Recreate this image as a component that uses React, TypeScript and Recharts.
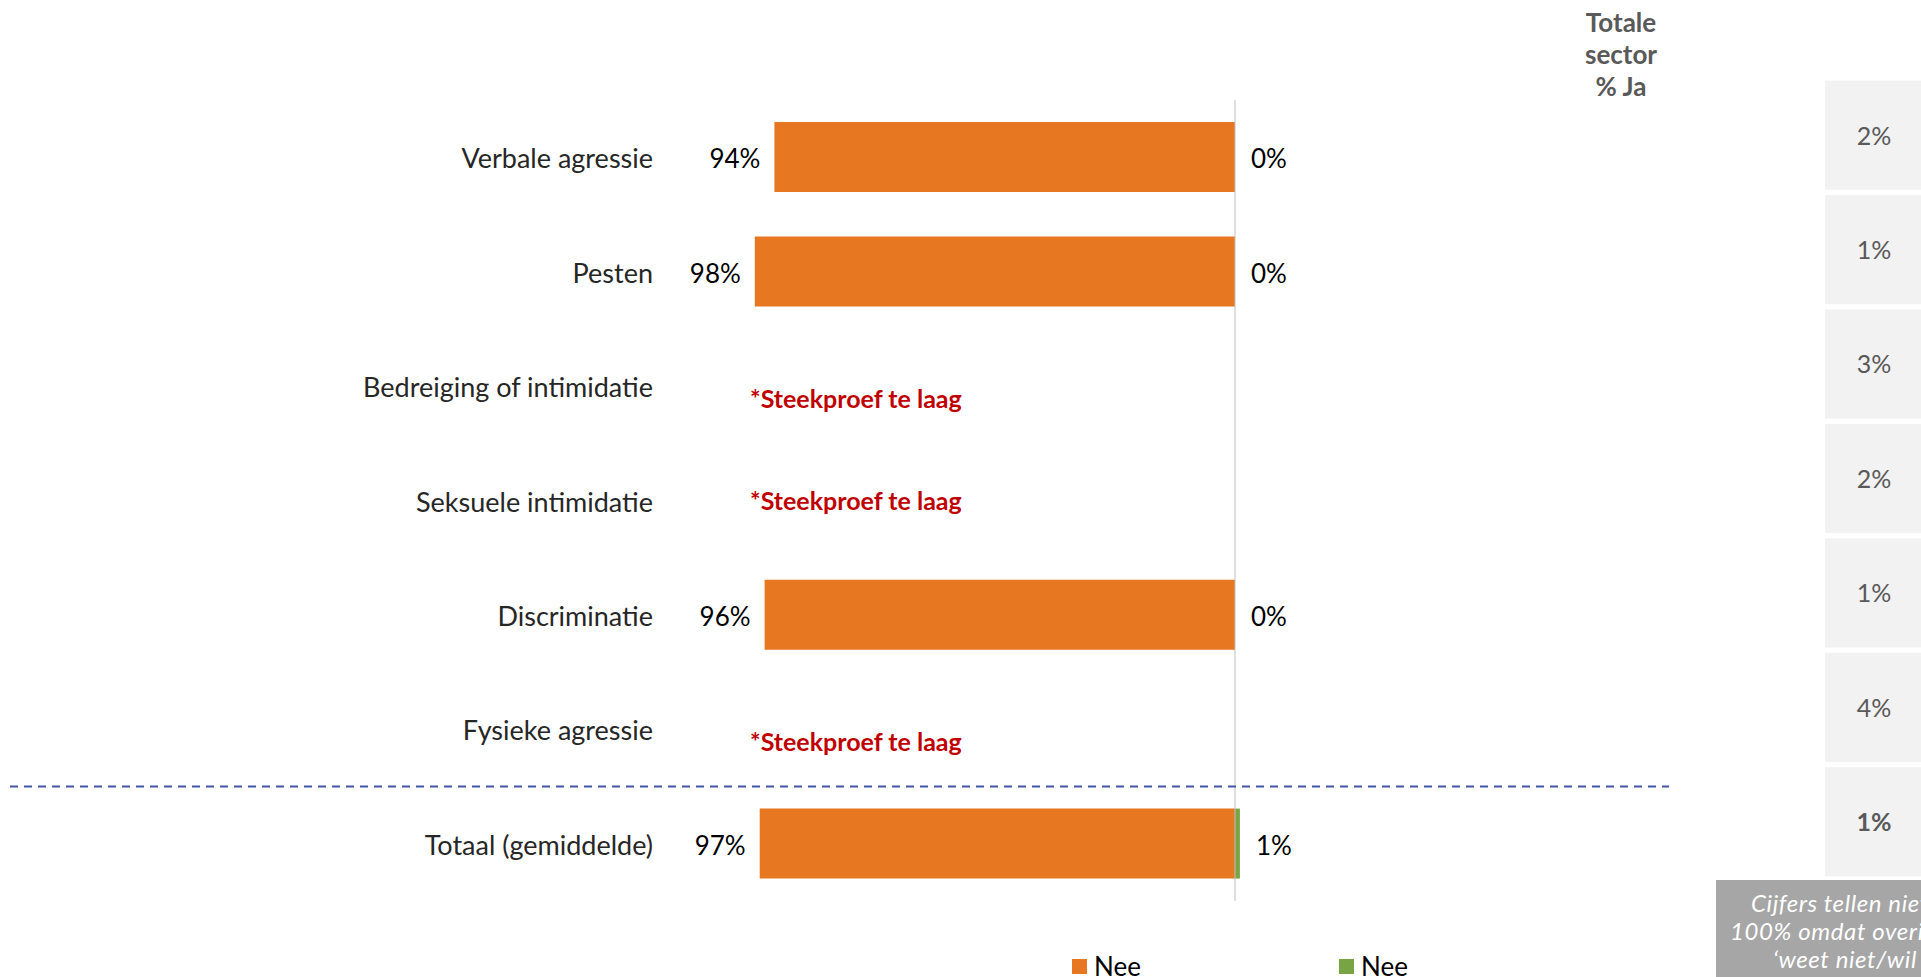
import React from 'react';
import { BarChart, Bar, XAxis, YAxis, ReferenceLine, ReferenceDot, LabelList } from 'recharts';

const categories = [
  'Verbale agressie',
  'Pesten',
  'Bedreiging of intimidatie',
  'Seksuele intimidatie',
  'Discriminatie',
  'Fysieke agressie',
  'Totaal (gemiddelde)',
];
const neeValues: (number | null)[] = [94, 98, null, null, 96, null, 97];
const jaValues: (number | null)[] = [0, 0, null, null, 0, null, 1];
const sectorJa = [2, 1, 3, 2, 1, 4, 1];
const lowSample = [false, false, true, true, false, true, false];
const legendLabels = ['Nee', 'Nee'];
const seriesColors = ['#E87722', '#78A443'];
const headerLines = ['Totale', 'sector', '% Ja'];
const noteLines = ['Cijfers tellen niet op tot', '100% omdat overige antwoorden', '\u2018weet niet/wil niet zeggen\u2019'];
const lowSampleText = '*Steekproef te laag';

// style: vertical nudge of the low-sample note per category (px)
const noteNudge: Record<string, number> = {
  'Bedreiging of intimidatie': 13,
  'Seksuele intimidatie': 1,
  'Fysieke agressie': 13,
};

const FONT = 'Lato, "Open Sans", sans-serif';

const data = categories.map((name, i) => ({
  name,
  nee: neeValues[i] == null ? null : -(neeValues[i] as number),
  ja: jaValues[i],
  neeLabel: neeValues[i] == null ? '' : `${neeValues[i]}%`,
  sector: sectorJa[i],
}));

const SectorTick = (props: any) => {
  const { x, y, index } = props;
  const isTotal = index === categories.length - 1;
  return (
    <g>
      <rect x={x} y={y - 76.5} width={200} height={109} fill="#F2F2F2" />
      <text
        x={x + 49}
        y={y - 21.5}
        dy="0.355em"
        textAnchor="middle"
        fill="#595959"
        fontSize={25}
        fontFamily={FONT}
        fontWeight={isTotal ? 'bold' : 'normal'}
      >
        {`${sectorJa[index]}%`}
      </text>
    </g>
  );
};

const CategoryTick = (props: any) => {
  const { x, y, payload } = props;
  return (
    <text
      x={x}
      y={y + 1.5}
      dy="0.355em"
      textAnchor="end"
      fill="#262626"
      fontSize={27}
      fontFamily={FONT}
    >
      {payload.value}
    </text>
  );
};

const makeNoteLabel = (cat: string) => (props: any) => {
  const vb = props.viewBox || {};
  return (
    <text
      x={vb.x + 5}
      y={vb.y + (noteNudge[cat] || 0)}
      dy="0.355em"
      fill="#C00000"
      fontWeight="bold"
      fontSize={25}
      fontFamily={FONT}
    >
      {lowSampleText}
    </text>
  );
};

const makeValueLabel = (text: string) => (props: any) => {
  const vb = props.viewBox || {};
  return (
    <text
      x={vb.x + (vb.width || 0) + 16}
      y={vb.y + (vb.height || 0) / 2 + 2}
      dy="0.355em"
      fill="#000"
      fontSize={26}
      fontFamily={FONT}
    >
      {text}
    </text>
  );
};

export default function App() {
  return (
    <div
      style={{
        position: 'absolute',
        left: 0,
        top: 0,
        width: 1921,
        height: 977,
        overflow: 'hidden',
        background: '#fff',
        fontFamily: FONT,
      }}
    >
      <div
        style={{
          position: 'absolute',
          left: 1521,
          top: 6,
          width: 200,
          textAlign: 'center',
          fontWeight: 'bold',
          fontSize: 26,
          lineHeight: '32px',
          color: '#595959',
        }}
      >
        {headerLines.map((l) => (
          <div key={l}>{l}</div>
        ))}
      </div>

      <BarChart
        width={1921}
        height={977}
        data={data}
        layout="vertical"
        stackOffset="sign"
        barCategoryGap={22}
        margin={{ top: 100, right: 0, bottom: 76, left: 0 }}
      >
        <XAxis type="number" domain={[-100, 100]} hide />
        <YAxis
          yAxisId="left"
          type="category"
          dataKey="name"
          width={745}
          axisLine={false}
          tickLine={false}
          tickSize={0}
          tickMargin={92}
          tick={<CategoryTick />}
        />
        <YAxis
          yAxisId="right"
          orientation="right"
          type="category"
          dataKey="name"
          width={196}
          axisLine={false}
          tickLine={false}
          tickSize={0}
          tickMargin={100}
          tick={<SectorTick />}
        />
        <Bar dataKey="nee" stackId="a" yAxisId="left" fill={seriesColors[0]} isAnimationActive={false}>
          <LabelList
            dataKey="neeLabel"
            position="right"
            offset={14}
            fill="#000"
            fontSize={26}
            fontFamily={FONT}
            dy={2}
          />
        </Bar>
        <Bar dataKey="ja" stackId="a" yAxisId="left" fill={seriesColors[1]} isAnimationActive={false} />
        <ReferenceLine x={0} yAxisId="left" stroke="#BFBFBF" strokeWidth={1} />
        {categories.map((c, i) =>
          jaValues[i] != null ? (
            <ReferenceDot
              key={'ja-' + c}
              yAxisId="left"
              x={jaValues[i] as number}
              y={c}
              r={0}
              fill="none"
              stroke="none"
              ifOverflow="visible"
              label={makeValueLabel(`${jaValues[i]}%`)}
            />
          ) : null
        )}
        {categories.map((c, i) =>
          lowSample[i] ? (
            <ReferenceLine key={c} y={c} yAxisId="left" stroke="none" label={makeNoteLabel(c)} />
          ) : null
        )}
        <ReferenceLine
          yAxisId="left"
          segment={[
            { x: -250, y: categories[categories.length - 1] },
            { x: 88.6, y: categories[categories.length - 1] },
          ]}
          position="start"
          ifOverflow="visible"
          stroke="#4356A6"
          strokeWidth={2}
          strokeDasharray="8 6"
        />
      </BarChart>

      <div style={{ position: 'absolute', left: 1072, top: 952, display: 'flex', fontSize: 26, color: '#000', lineHeight: '28px' }}>
        {legendLabels.map((l, i) => (
          <div key={i} style={{ width: 267, display: 'flex', alignItems: 'center' }}>
            <span style={{ width: 15, height: 15, background: seriesColors[i], display: 'inline-block', marginRight: 7 }} />
            <span>{l}</span>
          </div>
        ))}
      </div>

      <div
        style={{
          position: 'absolute',
          left: 1716,
          top: 880,
          width: 460,
          height: 97,
          background: '#A6A6A6',
          color: '#fff',
          fontStyle: 'italic',
          fontSize: 24,
          letterSpacing: 0.6,
          lineHeight: '28px',
          paddingTop: 9,
          boxSizing: 'border-box',
          whiteSpace: 'nowrap',
        }}
      >
        {noteLines.map((l, i) => (
          <div key={i} style={{ marginLeft: [35, 14, 57][i], height: 28 }}>
            {l}
          </div>
        ))}
      </div>
    </div>
  );
}
